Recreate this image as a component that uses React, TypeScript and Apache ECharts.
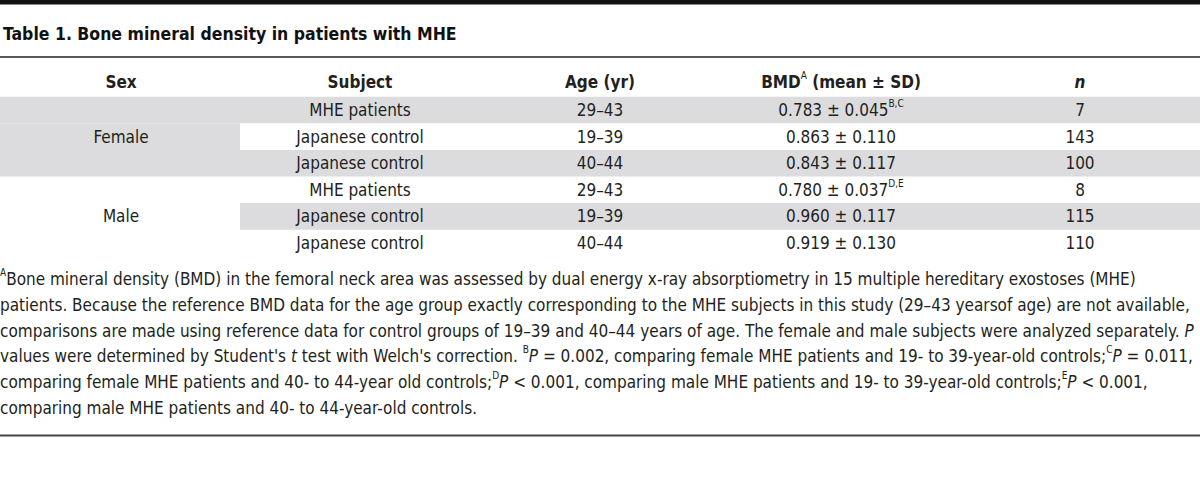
import React, { useEffect, useRef } from "react";
import * as echarts from "echarts";

const TITLE = "Table 1. Bone mineral density in patients with MHE";
const HEADERS = ["Sex", "Subject", "Age (yr)", "BMD{s|A} (mean ± SD)", "{i|n}"];
const SEX_GROUPS = ["Female", "Male"];
const GROUP_SIZE = 3;
const SUBJECTS = ["MHE patients", "Japanese control", "Japanese control", "MHE patients", "Japanese control", "Japanese control"];
const AGES = ["29–43", "19–39", "40–44", "29–43", "19–39", "40–44"];
const BMD_MEAN = [0.783, 0.863, 0.843, 0.78, 0.96, 0.919];
const BMD_SD = [0.045, 0.11, 0.117, 0.037, 0.117, 0.13];
const BMD_NOTES = ["B,C", "", "", "D,E", "", ""];
const N_VALUES = [7, 143, 100, 8, 115, 110];
const FOOTNOTE_LINES = [
  "{s|A}Bone mineral density (BMD) in the femoral neck area was assessed by dual energy x-ray absorptiometry in 15 multiple hereditary exostoses (MHE)",
  "patients. Because the reference BMD data for the age group exactly corresponding to the MHE subjects in this study (29–43 yearsof age) are not available,",
  "comparisons are made using reference data for control groups of 19–39 and 40–44 years of age. The female and male subjects were analyzed separately. {i|P}",
  "values were determined by Student's {i|t} test with Welch's correction. {s|B}{i|P} = 0.002, comparing female MHE patients and 19- to 39-year-old controls;{s|C}{i|P} = 0.011,",
  "comparing female MHE patients and 40- to 44-year old controls;{s|D}{i|P} < 0.001, comparing male MHE patients and 19- to 39-year-old controls;{s|E}{i|P} < 0.001,",
  "comparing male MHE patients and 40- to 44-year-old controls.",
];

const FONT = "'Liberation Sans Narrow', 'DejaVu Sans Condensed', Roboto, sans-serif";
const TEXT_COLOR = "#231f20";
const SHADE = "#dcdcde";
const COL_X = [121, 360, 600, 841, 1080];
const SEX_COL_RIGHT = 240;
const ROW_TOP = 96.7;
const ROW_H = 26.6;
const BODY_SIZE = 17;

function richStyles(size: number, bold: boolean) {
  const fw = bold ? "bold" : "normal";
  return {
    n: { fontFamily: FONT, fontSize: size, fontWeight: fw, fill: TEXT_COLOR, lineHeight: 23 },
    i: { fontFamily: FONT, fontSize: size, fontWeight: fw, fontStyle: "italic", fill: TEXT_COLOR, lineHeight: 23 },
    s: { fontFamily: FONT, fontSize: Math.round(size * 0.6), fontWeight: "normal", fill: TEXT_COLOR, verticalAlign: "top" },
  };
}

function wrapPlain(t: string) {
  const out: string[] = [];
  const re = /\{([a-z])\|([^}]*)\}/g;
  let last = 0;
  let m: RegExpExecArray | null;
  while ((m = re.exec(t))) {
    if (m.index > last) out.push("{n|" + t.slice(last, m.index) + "}");
    out.push(m[0]);
    last = m.index + m[0].length;
  }
  if (last < t.length) out.push("{n|" + t.slice(last) + "}");
  return out.join("");
}

function richText(x: number, y: number, t: string, size: number, bold: boolean, align: string) {
  return {
    type: "text",
    x,
    y,
    silent: true,
    style: {
      text: wrapPlain(t),
      rich: richStyles(size, bold),
      align,
      verticalAlign: "middle",
      fontFamily: FONT,
      fontSize: size,
      fill: TEXT_COLOR,
    },
  };
}

export default function App() {
  const ref = useRef<HTMLDivElement>(null);
  useEffect(() => {
    if (!ref.current) return;
    const chart = echarts.init(ref.current, null, { renderer: "svg" });
    const els: any[] = [];
    els.push({ type: "rect", shape: { x: 0, y: 0, width: 1200, height: 4.5 }, style: { fill: "#111" } });
    els.push({
      type: "text",
      x: 3,
      y: 33.5,
      style: { text: TITLE, fontFamily: FONT, fontSize: 17.5, fontWeight: "bold", fill: "#111", verticalAlign: "middle", align: "left" },
    });
    els.push({ type: "line", shape: { x1: 0, y1: 57, x2: 1200, y2: 57 }, style: { stroke: "#222", lineWidth: 1.5 } });
    const nRows = SUBJECTS.length;
    for (let r = 0; r < nRows; r++) {
      const top = ROW_TOP + r * ROW_H;
      const g = Math.floor(r / GROUP_SIZE);
      if (g % 2 === 0) {
        els.push({ type: "rect", shape: { x: 0, y: top, width: SEX_COL_RIGHT, height: ROW_H }, style: { fill: SHADE } });
      }
      if (r % 2 === 0) {
        els.push({ type: "rect", shape: { x: SEX_COL_RIGHT, y: top, width: 1200 - SEX_COL_RIGHT, height: ROW_H }, style: { fill: SHADE } });
      }
    }
    HEADERS.forEach((h, c) => els.push(richText(COL_X[c], 82, h, BODY_SIZE, true, "center")));
    SEX_GROUPS.forEach((s, g) => {
      const cy = ROW_TOP + (g * GROUP_SIZE + GROUP_SIZE / 2) * ROW_H;
      els.push(richText(COL_X[0], cy, s, BODY_SIZE, false, "center"));
    });
    for (let r = 0; r < nRows; r++) {
      const cy = ROW_TOP + r * ROW_H + ROW_H / 2;
      els.push(richText(COL_X[1], cy, SUBJECTS[r], BODY_SIZE, false, "center"));
      els.push(richText(COL_X[2], cy, AGES[r], BODY_SIZE, false, "center"));
      const bmd = BMD_MEAN[r].toFixed(3) + " ± " + BMD_SD[r].toFixed(3) + (BMD_NOTES[r] ? "{s|" + BMD_NOTES[r] + "}" : "");
      els.push(richText(COL_X[3], cy, bmd, BODY_SIZE, false, "center"));
      els.push(richText(COL_X[4], cy, String(N_VALUES[r]), BODY_SIZE, false, "center"));
    }
    FOOTNOTE_LINES.forEach((l, k) => els.push(richText(0, 279 + k * 25.8, l, BODY_SIZE, false, "left")));
    els.push({ type: "line", shape: { x1: 0, y1: 435.5, x2: 1200, y2: 435.5 }, style: { stroke: "#444", lineWidth: 2 } });

    chart.setOption({ animation: false, graphic: { elements: els } });
    return () => chart.dispose();
  }, []);
  return <div ref={ref} style={{ position: "fixed", left: 0, top: 0, width: 1200, height: 490, background: "#fff" }} />;
}
